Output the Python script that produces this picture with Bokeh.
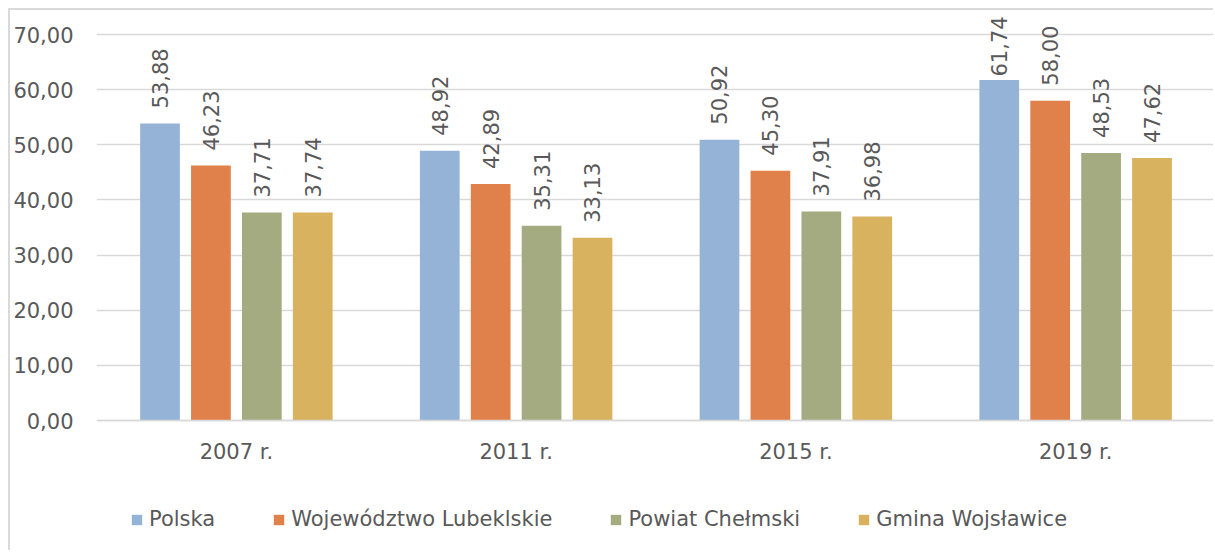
import numpy as np
from bokeh.plotting import figure
from bokeh.models import (ColumnDataSource, FactorRange, Range1d, LabelSet,
                          Legend, LegendItem, FixedTicker)
from bokeh.core.properties import value
from bokeh.transform import dodge
from bokeh.embed import file_html
from bokeh.resources import INLINE

# ---- data ----
years = ["2007 r.", "2011 r.", "2015 r.", "2019 r."]
series = ["Polska", "Województwo Lubeklskie", "Powiat Chełmski", "Gmina Wojsławice"]
polska = [53.88, 48.92, 50.92, 61.74]
lubelskie = [46.23, 42.89, 45.30, 58.00]
chelmski = [37.71, 35.31, 37.91, 48.53]
wojslawice = [37.74, 33.13, 36.98, 47.62]
y_ticks = [0, 10, 20, 30, 40, 50, 60, 70]
y_tick_labels = ["0,00", "10,00", "20,00", "30,00", "40,00", "50,00", "60,00", "70,00"]

# ---- styles ----
colors = ["#95b3d7", "#e0804a", "#a5ab81", "#d8b25e"]
offsets = [-0.273, -0.091, 0.091, 0.273]
bar_width = 0.142
FONT = "DejaVu Sans"
TXT = "#595959"
GRID = "#d9d9d9"
FS = "21px"

# frame spans the whole canvas (except the left axis); 0 at page y=420, 70 at y=34
ppu = (420 - 34) / 70.0
y_lo = -(552 - 420) / ppu
y_hi = 70 + (34 - 10) / ppu

values = [polska, lubelskie, chelmski, wojslawice]
data = {"year": years}
for i, v in enumerate(values):
    data[f"s{i}"] = v
    data[f"l{i}"] = [f"{x:.2f}".replace(".", ",") for x in v]
    # keep labels inside the chart area (push down the tallest one like Excel)
    data[f"o{i}"] = [min(15.0, 344 - x * ppu) for x in v]
src = ColumnDataSource(data)

p = figure(x_range=FactorRange(*years), y_range=Range1d(y_lo, y_hi),
           width=1205, height=542, output_backend="svg", toolbar_location=None,
           min_border_left=85, min_border_right=0, min_border_top=0,
           min_border_bottom=0)
p.styles = {"margin-left": "8px", "margin-top": "8px",
            "border-left": "2px solid #d9d9d9", "border-top": "2px solid #d9d9d9"}
p.outline_line_color = None
p.background_fill_color = "white"
p.border_fill_color = "white"

p.xgrid.grid_line_color = None
p.ygrid.ticker = FixedTicker(ticks=y_ticks)
p.ygrid.grid_line_color = GRID
p.ygrid.grid_line_width = 1.5

p.yaxis.ticker = FixedTicker(ticks=y_ticks)
p.yaxis.major_label_overrides = dict(zip(y_ticks, y_tick_labels))
p.yaxis.axis_line_color = None
p.yaxis.major_tick_line_color = None
p.yaxis.minor_tick_line_color = None
p.yaxis.major_tick_out = 0
p.yaxis.major_tick_in = 0
p.yaxis.minor_tick_out = 0
p.yaxis.major_label_standoff = 23
p.yaxis.major_label_text_font = FONT
p.yaxis.major_label_text_font_size = FS
p.yaxis.major_label_text_color = TXT

p.xaxis.fixed_location = 0
p.xaxis.axis_line_color = GRID
p.xaxis.axis_line_width = 1.5
p.xaxis.major_tick_line_color = None
p.xaxis.minor_tick_line_color = None
p.xaxis.major_tick_out = 0
p.xaxis.major_tick_in = 0
p.xaxis.major_label_standoff = 19
p.xaxis.major_label_text_font = FONT
p.xaxis.major_label_text_font_size = FS
p.xaxis.major_label_text_color = TXT

renderers = []
for i in range(4):
    xs = dodge("year", offsets[i], range=p.x_range)
    r = p.vbar(x=xs, top=f"s{i}", width=bar_width, source=src,
               fill_color=colors[i], line_color=None)
    renderers.append(r)
    labels = LabelSet(x=dodge("year", offsets[i], range=p.x_range), y=f"s{i}",
                      text=f"l{i}", source=src, angle=np.pi / 2,
                      text_align="left", text_baseline="middle", y_offset=f"o{i}",
                      text_font=value(FONT), text_font_size=value(FS), text_color=TXT)
    p.add_layout(labels)

legend = Legend(items=[LegendItem(label=series[i], renderers=[renderers[i]]) for i in range(4)],
                orientation="horizontal", location=(34, 21),
                glyph_width=13, glyph_height=13, label_standoff=6, spacing=57,
                padding=0, margin=0, border_line_color=None, background_fill_alpha=0,
                label_text_font=FONT, label_text_font_size=FS, label_text_color=TXT)
p.add_layout(legend, "center")

open("out.html", "w").write(file_html(p, INLINE, "chart"))
